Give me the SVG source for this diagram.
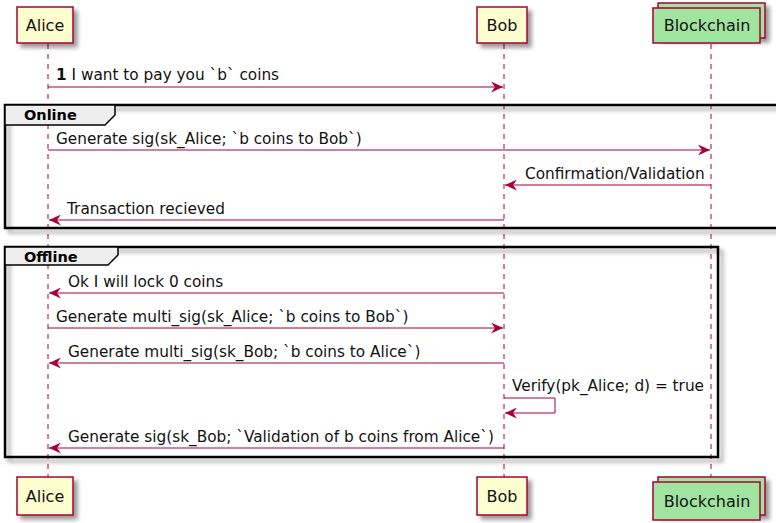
<svg xmlns="http://www.w3.org/2000/svg" width="776" height="523" viewBox="0 0 776 523">
<defs>
<filter id="sh" x="-20%" y="-20%" width="160%" height="160%">
<feGaussianBlur in="SourceAlpha" stdDeviation="2"/>
<feOffset dx="4" dy="4" result="b"/>
<feComponentTransfer><feFuncA type="linear" slope="0.4"/></feComponentTransfer>
<feMerge><feMergeNode/><feMergeNode in="SourceGraphic"/></feMerge>
</filter>
<marker id="ar" viewBox="0 0 13 11" refX="12" refY="5.5" markerWidth="13" markerHeight="11" markerUnits="userSpaceOnUse" orient="auto">
<polygon points="0,0 12,5.5 0,11 4,5.5" fill="#A80036"/>
</marker>
</defs>
<style>
.life{stroke:#A80036;stroke-width:1;stroke-dasharray:5,5;fill:none}
.pbox{fill:#FEFECE;stroke:#A80036;stroke-width:1.5}
.gbox{fill:#A0E4A0;stroke:#A80036;stroke-width:1.5}
.pname{font-family:"DejaVu Sans",sans-serif;font-size:16px;fill:#111;text-anchor:middle}
.msg{stroke:#A80036;stroke-width:1;fill:none}
.mt{font-family:"DejaVu Sans",sans-serif;font-size:15.3px;fill:#111}
.frame{fill:none;stroke:#000;stroke-width:2.5}
.tab{fill:#EEEEEE;stroke:#000;stroke-width:1.5}
.ft{font-family:"DejaVu Sans",sans-serif;font-size:14.5px;font-weight:bold;fill:#000}
</style>
<rect width="776" height="523" fill="#FFFFFF"/>
<g id="lifelines">
<line class="life" x1="48" y1="44" x2="48" y2="477"/>
<line class="life" x1="504" y1="44" x2="504" y2="477"/>
<line class="life" x1="711" y1="44" x2="711" y2="477"/>
</g>
<g id="frame-online">
<rect class="frame" x="5" y="105" width="780" height="123" filter="url(#sh)"/>
<polygon class="tab" points="5,105 115,105 115,115 105,125 5,125"/>
<text class="ft" x="24" y="120">Online</text>
</g>
<g id="frame-offline">
<rect class="frame" x="5" y="247" width="713" height="210" filter="url(#sh)"/>
<polygon class="tab" points="5,247 118,247 118,255 108,265 5,265"/>
<text class="ft" x="24" y="262">Offline</text>
</g>
<g id="Alice">
<rect class="pbox" x="17" y="7" width="56" height="36" filter="url(#sh)"/>
<text class="pname" x="45" y="31">Alice</text>
<rect class="pbox" x="17" y="477" width="56" height="38" filter="url(#sh)"/>
<text class="pname" x="45" y="502">Alice</text>
</g>
<g id="Bob">
<rect class="pbox" x="477" y="7" width="50" height="36" filter="url(#sh)"/>
<text class="pname" x="502" y="31">Bob</text>
<rect class="pbox" x="477" y="477" width="50" height="38" filter="url(#sh)"/>
<text class="pname" x="502" y="502">Bob</text>
</g>
<g id="Blockchain">
<rect class="gbox" x="658" y="3" width="107" height="35" filter="url(#sh)"/>
<rect class="gbox" x="653" y="8" width="107" height="35"/>
<text class="pname" x="707" y="31">Blockchain</text>
<rect class="gbox" x="658" y="477" width="107" height="38" filter="url(#sh)"/>
<rect class="gbox" x="653" y="482" width="107" height="38"/>
<text class="pname" x="707" y="507">Blockchain</text>
</g>
<g id="connectors">
<line class="msg" x1="48" y1="87" x2="503" y2="87" marker-end="url(#ar)"/>
<text class="mt" x="56" y="80"><tspan font-weight="bold">1</tspan> I want to pay you `b` coins</text>
<line class="msg" x1="48" y1="150" x2="710" y2="150" marker-end="url(#ar)"/>
<text class="mt" x="56" y="144">Generate sig(sk_Alice; `b coins to Bob`)</text>
<line class="msg" x1="711" y1="185" x2="505" y2="185" marker-end="url(#ar)"/>
<text class="mt" x="525" y="179">Confirmation/Validation</text>
<line class="msg" x1="504" y1="220" x2="49" y2="220" marker-end="url(#ar)"/>
<text class="mt" x="67" y="214">Transaction recieved</text>
<line class="msg" x1="504" y1="293" x2="49" y2="293" marker-end="url(#ar)"/>
<text class="mt" x="68" y="287">Ok I will lock 0 coins</text>
<line class="msg" x1="48" y1="328" x2="503" y2="328" marker-end="url(#ar)"/>
<text class="mt" x="56" y="322">Generate multi_sig(sk_Alice; `b coins to Bob`)</text>
<line class="msg" x1="504" y1="363" x2="49" y2="363" marker-end="url(#ar)"/>
<text class="mt" x="68" y="357">Generate multi_sig(sk_Bob; `b coins to Alice`)</text>
<polyline class="msg" points="504,398 555,398 555,413 505,413" marker-end="url(#ar)"/>
<text class="mt" x="512" y="391">Verify(pk_Alice; d) = true</text>
<line class="msg" x1="504" y1="448" x2="49" y2="448" marker-end="url(#ar)"/>
<text class="mt" x="68" y="442">Generate sig(sk_Bob; `Validation of b coins from Alice`)</text>
</g>
</svg>
